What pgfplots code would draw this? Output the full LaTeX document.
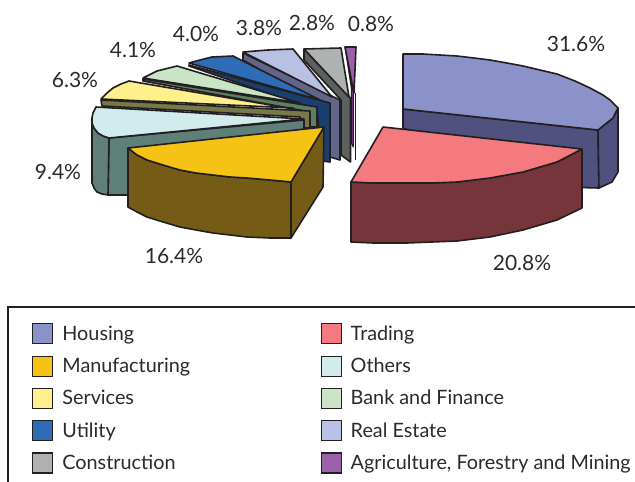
\documentclass[border=0pt]{standalone}
\usepackage{pgfplots}
\pgfplotsset{compat=1.18}
\usepackage{fontspec}
\setmainfont{Lato}
\definecolor{ink}{HTML}{231F20}
\definecolor{txt}{HTML}{2B2A29}
\definecolor{cH}{HTML}{8A92C9}\definecolor{sH}{HTML}{50517F}
\definecolor{cT}{HTML}{F47A7F}\definecolor{sT}{HTML}{75353A}
\definecolor{cM}{HTML}{F6C216}\definecolor{sM}{HTML}{745C17}
\definecolor{cO}{HTML}{D2ECEE}\definecolor{sO}{HTML}{5F8078}
\definecolor{cS}{HTML}{FFF08C}\definecolor{sS}{HTML}{777A48}
\definecolor{cB}{HTML}{C9E5C5}\definecolor{sB}{HTML}{5F8060}
\definecolor{cU}{HTML}{2F6CB7}\definecolor{sU}{HTML}{193F70}
\definecolor{cR}{HTML}{B8C0E3}\definecolor{sR}{HTML}{62658A}
\definecolor{cC}{HTML}{AEB2B2}\definecolor{sC}{HTML}{5C605E}
\definecolor{cA}{HTML}{9A60A8}\definecolor{sA}{HTML}{7A2D8A}
\pgfplotsset{
  pie/.style={fill=#1,draw=ink,line width=1.6pt,line join=round,no markers,forget plot},
  swatch/.style={fill=#1,draw=ink,line width=1.2pt,
    legend image code/.code={\path[draw=ink,fill=#1,line width=1.2pt] (0pt,-10pt) rectangle (20pt,10pt);\path (27pt,0pt);}},
}
\begin{document}
\begin{tikzpicture}
\path[use as bounding box] (0,0) rectangle (635pt,482pt);
\begin{axis}[
  at={(0,0)},anchor=south west,
  scale only axis,width=635pt,height=482pt,
  xmin=0,xmax=635,ymin=0,ymax=482,y dir=reverse,
  axis lines=none,clip=false,
  legend columns=2,
  legend style={at={(axis cs:32,323)},anchor=north west,draw=none,fill=none,
    font=\fontsize{19.8}{22}\selectfont\color{txt},inner sep=0pt,
    /tikz/column 2/.style={column sep=128.5pt},
    row sep=11.1pt},
  legend cell align=left,
]
% legend entries
\addlegendimage{swatch=cH}\addlegendentry{Housing}
\addlegendimage{swatch=cT}\addlegendentry{Trading}
\addlegendimage{swatch=cM}\addlegendentry{Manufacturing}
\addlegendimage{swatch=cO}\addlegendentry{Others}
\addlegendimage{swatch=cS}\addlegendentry{Services}
\addlegendimage{swatch=cB}\addlegendentry{Bank and Finance}
\addlegendimage{swatch=cU}\addlegendentry{Utility}
\addlegendimage{swatch=cR}\addlegendentry{Real Estate}
\addlegendimage{swatch=cC}\addlegendentry{Construction}
\addlegendimage{swatch=cA}\addlegendentry{Agriculture, Forestry and Mining}
% legend frame
\addplot[draw=ink,line width=1.2pt,no markers,forget plot] coordinates {(8,482) (8,307) (635,307)};
% Housing
\addplot[pie=sH] coordinates {(403,109) (598,130) (599,188) (560,187) (403,128)} -- cycle;
\addplot[pie=sH] coordinates {(598,130) (613,118) (618,108) (618,172) (612,182) (599,188)} -- cycle;
\addplot[pie=cH] coordinates {(403,54) (423,54) (440,55) (457,56) (474,58) (490,60) (507,63) (523,66) (540,70) (557,74) (575,81) (590,88) (603,95) (610,100) (618,108) (613,118) (598,130) (403,109)} -- cycle;
% Trading
\addplot[pie=sT] coordinates {(351,182) (373,183) (407,183) (432,183) (457,182) (490,178) (523,172) (557,162) (582,149) (582,208) (557,220) (523,230) (490,237) (457,241) (432,242) (407,243) (373,243) (351,242)} -- cycle;
\addplot[pie=cT] coordinates {(383,127) (582,149) (557,162) (523,172) (490,178) (457,182) (432,183) (407,183) (373,183) (351,182)} -- cycle;
% Construction
\addplot[pie=sC] coordinates {(304,49) (350.5,98) (350.5,162) (341,155) (341,100) (304,60)} -- cycle;
\addplot[pie=cC] coordinates {(304,49) (341,48) (349,97)} -- cycle;
% Agriculture
\addplot[draw=ink,line width=1.6pt,no markers,forget plot] coordinates {(355.3,93) (355.3,160)};
\addplot[fill=sA,draw=ink,line width=1pt,line join=round,no markers,forget plot] coordinates {(345,47) (353.3,92) (353.3,147) (351.3,143) (351.3,88)} -- cycle;
\addplot[pie=cA] coordinates {(345,47) (356,47) (354,93)} -- cycle;
% Real estate
\addplot[pie=sR] coordinates {(243,53) (340,100) (340,160) (330,157) (330,110) (243,60)} -- cycle;
\addplot[pie=cR] coordinates {(243,52) (268,50) (293,49) (332,97)} -- cycle;
% Utility
\addplot[pie=sU] coordinates {(189,65) (330,103) (330,162) (322,161) (317,110) (189,66)} -- cycle;
\addplot[pie=cU] coordinates {(189,63) (200,60) (212,57) (233,56) (320,100)} -- cycle;
% Bank
\addplot[pie=sB] coordinates {(143,79) (317,107) (317,127) (310,127) (310,112) (143,81)} -- cycle;
\addplot[pie=cB] coordinates {(143,78) (157,71) (177,66) (300,103)} -- cycle;
% Services
\addplot[pie=sS] coordinates {(101,100) (310,111) (310,128) (300,128) (300,117) (102,106)} -- cycle;
\addplot[pie=cS] coordinates {(101,99) (107,93) (113,88) (121,84) (129,81) (288,108) (293,108)} -- cycle;
% Others
\addplot[pie=sO] coordinates {(109,138) (304,120) (304,150) (128,195) (108,195)} -- cycle;
\addplot[pie=sO] coordinates {(92,123) (94,128) (98,133) (103,136) (109,138) (108,195) (102,194) (97,192) (94,188) (92,183)} -- cycle;
\addplot[pie=cO] coordinates {(96,107) (304,119) (109,138) (103,136) (98,133) (94,128) (92,123) (92,118) (93,113)} -- cycle;
% Manufacturing
\addplot[pie=sM] coordinates {(291,182) (324,127) (323,187) (291,238)} -- cycle;
\addplot[pie=sM] coordinates {(128,148) (137,155) (147,160) (163,165) (180,170) (196,173) (213,175) (230,177) (247,178) (270,180) (291,182) (291,238) (270,238) (247,237) (230,235) (213,233) (196,230) (180,227) (163,222) (147,217) (137,212) (128,207)} -- cycle;
\addplot[pie=cM] coordinates {(128,148) (324,127) (291,182) (270,180) (247,178) (230,177) (213,175) (196,173) (180,170) (163,165) (147,160) (137,155)} -- cycle;
% labels
\foreach \x/\y/\t in {576/44/31.6\%,522/263/20.8\%,174/256/16.4\%,58/172/9.4\%,75/80/6.3\%,133/50/4.1\%,196/34/4.0\%,259/28/3.8\%,312/23/2.8\%,371/24/0.8\%}{
  \edef\temp{\noexpand\node[font=\noexpand\fontsize{21}{23}\noexpand\selectfont,text=txt] at (axis cs:\x,\y) {\t};}
  \temp
}
\end{axis}
\end{tikzpicture}
\end{document}
